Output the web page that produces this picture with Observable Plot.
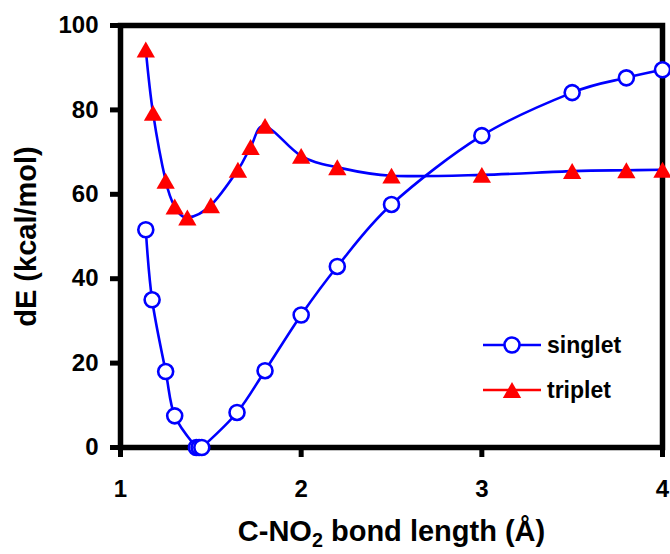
<!DOCTYPE html>
<html><head><meta charset="utf-8">
<script src="https://cdn.jsdelivr.net/npm/d3@7"></script>
<script src="https://cdn.jsdelivr.net/npm/@observablehq/plot@0.6"></script>
<style>
body{margin:0;background:#fff}
#wrap{position:relative;width:670px;height:554px;font-family:"Liberation Sans",Arial,sans-serif}
#legend{position:absolute;left:0;top:0;pointer-events:none}
</style>
</head><body><div id="wrap"></div>
<script>
// Data
const singletX = [1.14, 1.175, 1.25, 1.30, 1.42, 1.435, 1.45, 1.645, 1.80, 2.0, 2.2, 2.5, 3.0, 3.5, 3.8, 4.0];
const singletY = [51.6, 35.0, 18.0, 7.5, 0.0, 0.0, 0.0, 8.3, 18.2, 31.4, 42.9, 57.6, 73.9, 84.1, 87.6, 89.5];
const tripletX = [1.14, 1.18, 1.25, 1.30, 1.37, 1.50, 1.65, 1.72, 1.80, 2.0, 2.2, 2.5, 3.0, 3.5, 3.8, 4.0];
const tripletY = [94.3, 79.3, 63.2, 57.1, 54.5, 57.4, 65.8, 71.2, 76.2, 69.1, 66.4, 64.4, 64.6, 65.5, 65.7, 65.8];
const xTicks = [1, 2, 3, 4];
const yTicks = [0, 20, 40, 60, 80, 100];
const xDomain = [1, 4];
const yDomain = [0, 100];
const seriesNames = ["singlet", "triplet"];
const xTitle = "C-NO2 bond length (Å)";
const yTitle = "dE (kcal/mol)";

const singlet = singletX.map((x, i) => ({x, y: singletY[i]}));
const triplet = tripletX.map((x, i) => ({x, y: tripletY[i]}));
const FONT = '"Liberation Sans", Arial, sans-serif';
const BLUE = "#0000ff", RED = "#ff0000";

const chart = Plot.plot({
  width: 670, height: 554,
  marginLeft: 120, marginRight: 8, marginTop: 25, marginBottom: 107,
  style: {fontFamily: FONT, background: "#fff", overflow: "visible", color: "#000"},
  x: {domain: xDomain},
  y: {domain: yDomain},
  marks: [
    Plot.axisY({ticks: yTicks, tickSize: 10, tickPadding: 12, strokeWidth: 5, fontSize: 24, fontWeight: "bold", label: null, tickFormat: d => String(d)}),
    Plot.axisX({ticks: xTicks, tickSize: 10, tickPadding: 22, strokeWidth: 5, fontSize: 24, fontWeight: "bold", label: null, tickFormat: d => String(d)}),
    Plot.frame({stroke: "#000", strokeWidth: 5.5}),
    Plot.line(singlet, {x: "x", y: "y", stroke: BLUE, strokeWidth: 2.6, curve: "cardinal"}),
    Plot.line(triplet, {x: "x", y: "y", stroke: BLUE, strokeWidth: 2.6, curve: "cardinal"}),
    Plot.dot(singlet, {x: "x", y: "y", r: 7.5, stroke: BLUE, fill: "#fff", strokeWidth: 2.6}),
    Plot.dot(triplet, {x: "x", y: "y", symbol: "triangle", r: 6.8, fill: RED, stroke: "none", dy: 2.6}),
    Plot.text([xTitle], {frameAnchor: "bottom", dy: 84, textAnchor: "middle", lineAnchor: "middle", text: d => d, fontSize: 29, fontWeight: "bold", fill: "#000"}),
    Plot.text([yTitle], {frameAnchor: "left", dx: -94, rotate: -90, textAnchor: "middle", lineAnchor: "middle", text: d => d, fontSize: 29, fontWeight: "bold", fill: "#000"})
  ]
});

// make sure the frame and tick strokes are thick
chart.querySelectorAll('[aria-label="frame"]').forEach(el => {
  el.setAttribute("stroke-width", "5.5");
  el.querySelectorAll("*").forEach(c => c.setAttribute("stroke-width", "5.5"));
});
chart.querySelectorAll('[aria-label="y-axis tick"], [aria-label="x-axis tick"]').forEach(el => {
  el.setAttribute("stroke-width", "5");
  el.querySelectorAll("path").forEach(c => c.setAttribute("stroke-width", "5"));
});

// subscript "2" in the x title
chart.querySelectorAll("text").forEach(t => {
  if (t.textContent === xTitle) {
    t.textContent = "";
    const ns = "http://www.w3.org/2000/svg";
    const a = document.createElementNS(ns, "tspan"); a.textContent = "C-NO";
    const b = document.createElementNS(ns, "tspan"); b.textContent = "2"; b.setAttribute("dy", "0.3em"); b.setAttribute("font-size", "0.68em");
    const c = document.createElementNS(ns, "tspan"); c.textContent = " bond length (Å)"; c.setAttribute("dy", "-0.2em");
    t.append(a, b, c);
  }
});

const wrap = document.getElementById("wrap");
wrap.appendChild(chart);

// legend overlay
const leg = d3.select(wrap).append("svg").attr("id", "legend").attr("width", 670).attr("height", 554);
const rows = [
  {name: seriesNames[0], color: BLUE, y: 345, marker: "circle"},
  {name: seriesNames[1], color: RED, y: 390, marker: "triangle"}
];
rows.forEach(r => {
  leg.append("line").attr("x1", 483).attr("x2", 541).attr("y1", r.y).attr("y2", r.y).attr("stroke", r.color).attr("stroke-width", 2.6);
  if (r.marker === "circle") {
    leg.append("circle").attr("cx", 512).attr("cy", r.y).attr("r", 7.5).attr("fill", "#fff").attr("stroke", BLUE).attr("stroke-width", 2.6);
  } else {
    leg.append("path").attr("d", d3.symbol(d3.symbolTriangle, Math.PI * 6.8 * 6.8)()).attr("transform", `translate(512,${r.y + 2.6})`).attr("fill", RED);
  }
  leg.append("text").attr("x", 547).attr("y", r.y).attr("dy", "0.35em").attr("font-size", 23).attr("font-weight", "bold").attr("font-family", FONT).attr("fill", "#000").text(r.name);
});
</script>
</body></html>
